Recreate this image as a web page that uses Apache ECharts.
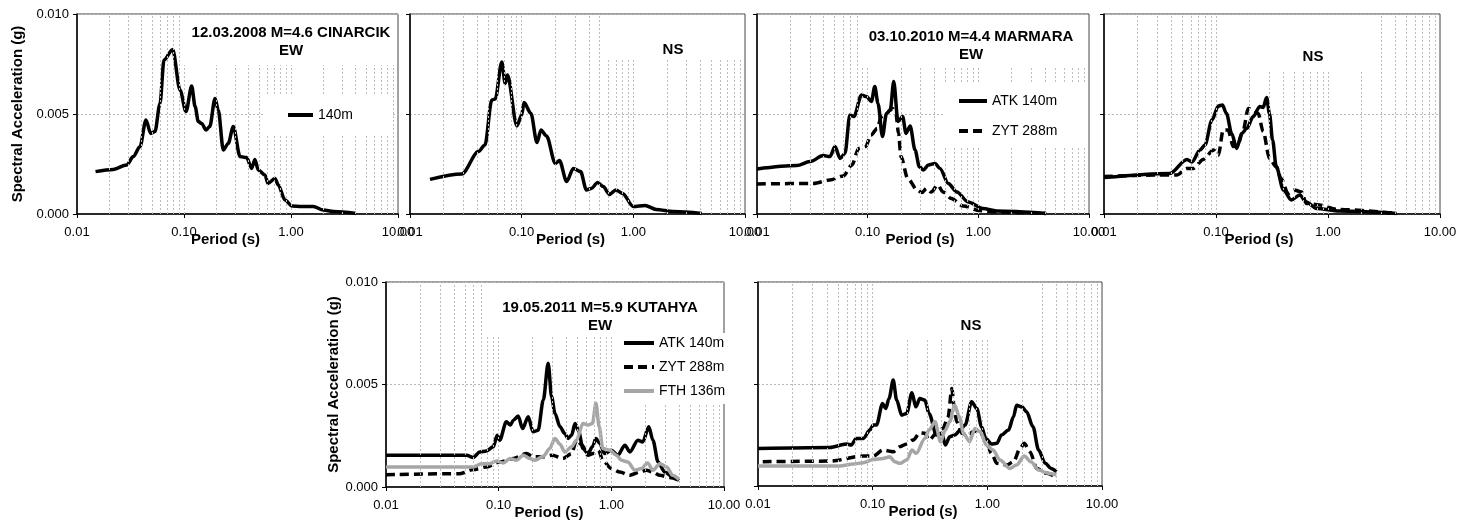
<!DOCTYPE html>
<html><head><meta charset="utf-8">
<script src="https://cdn.jsdelivr.net/npm/echarts@6/dist/echarts.min.js"></script>
<style>html,body{margin:0;padding:0;background:#fff}#c{width:1460px;height:521px}</style>
</head><body><div id="c"></div>
<script>
// ---------- tick labels ----------
const xTickLabels = ['0.01', '0.10', '1.00', '10.00'];
const yTickLabels = ['0.000', '0.005', '0.010'];

// ---------- panel titles / legend names ----------
const panelTitles = ['12.03.2008 M=4.6 CINARCIK\nEW', 'NS', '03.10.2010 M=4.4 MARMARA\nEW', 'NS', '19.05.2011 M=5.9 KUTAHYA\nEW', 'NS'];
const seriesNames = ['140m', 'ATK 140m', 'ZYT 288m', 'FTH 136m'];

// ---------- 12.03.2008 Cinarcik ----------
const cinEW_T  = [0.0149,0.0218,0.0291,0.0336,0.0388,0.0441,0.0488,0.0535,0.0597,0.065,0.0784,0.0918,0.1044,0.118,0.127,0.136,0.146,0.161,0.174,0.195,0.209,0.233,0.259,0.289,0.334,0.385,0.429,0.46,0.494,0.571,0.61,0.708,0.76,0.879,1.02,1.25,1.62,2.0,2.5,4.05];
const cinEW_SA = [0.00212,0.00223,0.00245,0.00287,0.00337,0.0047,0.00403,0.00412,0.00553,0.0077,0.00823,0.0062,0.00512,0.0064,0.00537,0.00462,0.00453,0.0042,0.00437,0.00578,0.0052,0.0032,0.00353,0.00437,0.00287,0.00282,0.00228,0.00273,0.0022,0.00195,0.00153,0.00178,0.00145,0.0007,0.0004,0.00038,0.00037,0.0002,0.00012,0.00003];
const cinNS_T  = [0.0151,0.0291,0.041,0.0469,0.054,0.058,0.0664,0.0712,0.0746,0.0906,0.1,0.105,0.121,0.137,0.149,0.167,0.2,0.218,0.253,0.29,0.337,0.38,0.42,0.48,0.538,0.61,0.697,0.8,1.0,1.27,1.6,2.3,4.1];
const cinNS_SA = [0.00173,0.002,0.00312,0.00345,0.0057,0.00575,0.0076,0.00653,0.00695,0.0044,0.00495,0.00557,0.00503,0.00357,0.0042,0.0039,0.00253,0.00267,0.00162,0.00228,0.00212,0.0012,0.00128,0.00157,0.00137,0.00098,0.0012,0.00103,0.00037,0.00043,0.00023,0.00012,0.00003];

// ---------- 03.10.2010 Marmara ----------
const marEW_ATK_T  = [0.01,0.0229,0.0301,0.0397,0.0456,0.0507,0.0563,0.0624,0.069,0.075,0.088,0.0976,0.108,0.116,0.124,0.136,0.148,0.16,0.172,0.188,0.207,0.222,0.242,0.268,0.293,0.319,0.354,0.407,0.45,0.535,0.64,0.81,1.1,1.46,4.1];
const marEW_ATK_SA = [0.00225,0.00242,0.00262,0.00292,0.00287,0.00337,0.00278,0.00303,0.00495,0.00487,0.00595,0.00587,0.00562,0.00637,0.00553,0.00387,0.00503,0.0052,0.00662,0.00462,0.00487,0.00403,0.0044,0.0032,0.00237,0.0022,0.00245,0.00253,0.00228,0.00153,0.0011,0.0006,0.00027,0.00015,0.00003];
const marEW_ZYT_T  = [0.01,0.0323,0.0456,0.0601,0.072,0.083,0.096,0.107,0.122,0.133,0.148,0.16,0.168,0.18,0.19,0.2,0.23,0.28,0.31,0.34,0.375,0.43,0.48,0.57,0.73,1.03,1.46,4.1];
const marEW_ZYT_SA = [0.0015,0.00153,0.0017,0.0019,0.00245,0.00328,0.00337,0.00395,0.00428,0.00487,0.00503,0.0052,0.00528,0.00503,0.00403,0.00287,0.00178,0.0012,0.00107,0.00128,0.0011,0.00145,0.0011,0.00078,0.0004,0.00017,0.0001,0.00003];
const marNS_ATK_T  = [0.01,0.0388,0.055,0.061,0.072,0.0797,0.092,0.105,0.114,0.124,0.138,0.153,0.17,0.188,0.215,0.246,0.264,0.283,0.30,0.32,0.345,0.40,0.47,0.56,0.64,0.79,1.27,4.1];
const marNS_ATK_SA = [0.00182,0.00203,0.00273,0.0026,0.0032,0.00345,0.0047,0.0054,0.00545,0.00503,0.00403,0.00328,0.00403,0.00428,0.00487,0.00537,0.00533,0.00583,0.00503,0.0037,0.00237,0.0012,0.0007,0.00095,0.0006,0.00028,0.00015,0.00003];
const marNS_ZYT_T  = [0.01,0.0295,0.0446,0.055,0.0625,0.077,0.095,0.105,0.116,0.128,0.143,0.158,0.175,0.194,0.215,0.238,0.264,0.30,0.345,0.38,0.44,0.50,0.58,0.64,0.84,1.2,4.1];
const marNS_ZYT_SA = [0.00187,0.00195,0.00195,0.00228,0.00228,0.00273,0.0032,0.00295,0.0042,0.0042,0.00337,0.00353,0.0042,0.00528,0.0052,0.00503,0.00412,0.00278,0.00237,0.00178,0.00103,0.0012,0.0011,0.00053,0.00045,0.00023,0.00003];

// ---------- 19.05.2011 Kutahya ----------
const kutEW_ATK_T  = [0.01,0.0519,0.0595,0.068,0.078,0.0895,0.097,0.102,0.117,0.127,0.135,0.149,0.163,0.183,0.202,0.224,0.249,0.275,0.295,0.316,0.35,0.386,0.413,0.444,0.476,0.51,0.56,0.62,0.68,0.73,0.79,0.87,1.0,1.14,1.32,1.46,1.72,1.9,2.15,2.34,2.6,2.98,3.5,4.0];
const kutEW_ATK_SA = [0.00155,0.00155,0.00144,0.00171,0.00176,0.00196,0.00253,0.00228,0.00318,0.00302,0.00326,0.00346,0.00285,0.00343,0.00269,0.00277,0.00424,0.00604,0.0044,0.00359,0.00294,0.00261,0.00237,0.00253,0.0031,0.00277,0.00188,0.00163,0.00196,0.00237,0.00212,0.00163,0.00179,0.00155,0.00204,0.00171,0.00228,0.0022,0.00294,0.00228,0.00122,0.00073,0.00049,0.00033];
const kutEW_ZYT_T  = [0.01,0.0452,0.0595,0.078,0.102,0.135,0.177,0.202,0.249,0.30,0.37,0.444,0.49,0.55,0.62,0.69,0.77,0.84,1.0,1.19,1.46,1.78,2.05,2.34,2.7,3.3,4.0];
const kutEW_ZYT_SA = [0.0006,0.00065,0.00085,0.00098,0.00122,0.00139,0.00163,0.00147,0.00147,0.00155,0.00139,0.00163,0.00228,0.00204,0.00155,0.00163,0.00179,0.0013,0.0009,0.00073,0.00057,0.00073,0.00082,0.00073,0.00057,0.00046,0.00033];
const kutEW_FTH_T  = [0.01,0.0595,0.0705,0.0835,0.0956,0.11,0.126,0.144,0.165,0.189,0.21,0.249,0.284,0.316,0.35,0.386,0.444,0.49,0.56,0.62,0.68,0.73,0.78,0.84,0.97,1.11,1.23,1.4,1.62,1.85,2.1,2.34,2.7,3.1,3.5,4.0];
const kutEW_FTH_SA = [0.00098,0.00098,0.00114,0.00114,0.00127,0.00117,0.00139,0.0013,0.00155,0.00139,0.0013,0.0015,0.00188,0.00237,0.00209,0.00171,0.00196,0.00228,0.0031,0.00302,0.0031,0.00408,0.00294,0.00188,0.00179,0.00155,0.0013,0.00122,0.00082,0.0009,0.00117,0.00082,0.00114,0.00098,0.00057,0.00036];
const kutNS_ATK_T  = [0.01,0.0423,0.059,0.065,0.072,0.083,0.0945,0.101,0.108,0.122,0.13,0.139,0.151,0.162,0.179,0.198,0.22,0.238,0.258,0.285,0.31,0.36,0.40,0.43,0.47,0.52,0.58,0.64,0.73,0.81,0.89,0.97,1.09,1.21,1.33,1.53,1.69,1.8,2.0,2.2,2.5,2.8,3.2,3.6,4.0];
const kutNS_ATK_SA = [0.00184,0.00189,0.00206,0.00201,0.00233,0.00233,0.00274,0.00299,0.00299,0.00405,0.0038,0.00429,0.00519,0.00421,0.00347,0.00356,0.00457,0.00388,0.00429,0.00421,0.00356,0.0025,0.00258,0.00201,0.00241,0.0025,0.00274,0.00299,0.00413,0.0038,0.0029,0.00233,0.00206,0.00209,0.0025,0.00274,0.00339,0.00396,0.00388,0.00364,0.0029,0.00176,0.00111,0.00086,0.0007];
const kutNS_ZYT_T  = [0.011,0.0423,0.083,0.101,0.123,0.151,0.173,0.198,0.225,0.258,0.285,0.31,0.36,0.41,0.455,0.49,0.51,0.54,0.6,0.68,0.75,0.85,0.96,1.09,1.21,1.48,1.69,1.93,2.1,2.35,2.7,3.3,4.0];
const kutNS_ZYT_SA = [0.00119,0.00122,0.00147,0.00147,0.00176,0.00168,0.00193,0.00206,0.00225,0.00261,0.00258,0.00225,0.00258,0.00282,0.00339,0.00478,0.00405,0.00315,0.00258,0.0025,0.00266,0.00274,0.00225,0.0016,0.00111,0.00103,0.00119,0.00184,0.00209,0.00168,0.00086,0.00062,0.00042];
const kutNS_FTH_T  = [0.01,0.0517,0.0677,0.083,0.101,0.123,0.141,0.156,0.173,0.198,0.22,0.24,0.285,0.31,0.35,0.39,0.43,0.47,0.52,0.57,0.62,0.70,0.78,0.87,0.98,1.12,1.29,1.58,1.8,2.1,2.4,2.8,3.4,4.0];
const kutNS_FTH_SA = [0.00098,0.00098,0.00108,0.00114,0.0013,0.00135,0.00143,0.00119,0.00111,0.00127,0.00176,0.0016,0.00233,0.00274,0.00315,0.00217,0.00274,0.00315,0.00396,0.00339,0.00258,0.00217,0.00282,0.00266,0.00201,0.00176,0.00127,0.00086,0.00103,0.00147,0.00119,0.00078,0.00062,0.00054];

// ---------- layout ----------
const FONT = '"Liberation Sans", Arial, sans-serif';
const grids = [
  {left: 77,   top: 14,  width: 321, height: 200},
  {left: 410,  top: 14,  width: 335, height: 200},
  {left: 757,  top: 14,  width: 332, height: 200},
  {left: 1104, top: 14,  width: 336, height: 200},
  {left: 386,  top: 282, width: 338, height: 205},
  {left: 758,  top: 282, width: 344, height: 204}
];
const periodShift = [24, 14, 6, 26, 12, 14];
const yNameGap = [52, 0, 0, 0, 39, 0];

const styles = {
  solid:  {color: '#000', width: 3.5, type: 'solid'},
  dashed: {color: '#000', width: 3.5, type: [9, 5]},
  gray:   {color: '#a6a6a6', width: 3.5, type: 'solid'}
};

function curve(name, gi, T, SA, st) {
  return {
    type: 'line', name: name, xAxisIndex: gi, yAxisIndex: gi,
    data: T.map((t, i) => [t, SA[i]]),
    symbol: 'none', showSymbol: false, smooth: 0.3, smoothMonotone: 'x',
    lineStyle: {color: st.color, width: st.width, type: st.type},
    itemStyle: {color: st.color}, z: 3, animation: false
  };
}

// minor grid positions built from the log decades
const gridVals = [];
[0.01, 0.1, 1].forEach(d => { for (let k = 1; k <= 9; k++) { if (!(d === 0.01 && k === 1)) gridVals.push(+(k * d).toPrecision(3)); } });

const xAxes = grids.map((g, i) => ({
  type: 'log', logBase: 10, gridIndex: i, min: 0.01, max: 10,
  axisLine: {show: true, lineStyle: {color: '#000', width: 1.5}},
  axisTick: {show: true, length: 4, lineStyle: {color: '#000'}},
  splitLine: {show: false},
  axisLabel: {color: '#000', fontSize: 13, fontFamily: FONT, margin: 12,
    formatter: v => xTickLabels[Math.round(Math.log10(v)) + 2]},
  name: 'Period (s)', nameLocation: 'middle', nameGap: 18, nameMoveOverlap: false,
  nameTextStyle: {color: '#000', fontSize: 15, fontWeight: 'bold', fontFamily: FONT, padding: [0, periodShift[i], 0, 0]}
}));
const yAxes = grids.map((g, i) => ({
  type: 'value', gridIndex: i, min: 0, max: 0.01, interval: 0.005,
  axisLine: {show: true, lineStyle: {color: '#000', width: 1.5}},
  axisTick: {show: true, length: 4, lineStyle: {color: '#000'}},
  splitLine: {show: true, lineStyle: {color: '#b8b8b8', type: [2, 2], width: 1}},
  axisLabel: {show: i === 0 || i === 4, color: '#000', fontSize: 13, fontFamily: FONT, margin: 8,
    formatter: v => yTickLabels[Math.round(v / 0.005)]},
  name: (i === 0 || i === 4) ? 'Spectral Acceleration (g)' : '',
  nameLocation: 'middle', nameGap: yNameGap[i],
  nameTextStyle: {color: '#000', fontSize: 15, fontWeight: 'bold', fontFamily: FONT}
}));

const series = [];
grids.forEach((g, i) => {
  series.push({
    type: 'line', xAxisIndex: i, yAxisIndex: i, data: [], silent: true, animation: false,
    markLine: {silent: true, animation: false, symbol: ['none', 'none'], label: {show: false},
      lineStyle: {color: '#bdbdbd', type: [2, 2], width: 1},
      data: gridVals.map(v => ({xAxis: v}))}
  });
});
series.push(curve(seriesNames[0], 0, cinEW_T, cinEW_SA, styles.solid));
series.push(curve(seriesNames[0], 1, cinNS_T, cinNS_SA, styles.solid));
series.push(curve(seriesNames[1], 2, marEW_ATK_T, marEW_ATK_SA, styles.solid));
series.push(curve(seriesNames[2], 2, marEW_ZYT_T, marEW_ZYT_SA, styles.dashed));
series.push(curve(seriesNames[1], 3, marNS_ATK_T, marNS_ATK_SA, styles.solid));
series.push(curve(seriesNames[2], 3, marNS_ZYT_T, marNS_ZYT_SA, styles.dashed));
series.push(curve(seriesNames[1], 4, kutEW_ATK_T, kutEW_ATK_SA, styles.solid));
series.push(curve(seriesNames[2], 4, kutEW_ZYT_T, kutEW_ZYT_SA, styles.dashed));
series.push(curve(seriesNames[3], 4, kutEW_FTH_T, kutEW_FTH_SA, styles.gray));
series.push(curve(seriesNames[1], 5, kutNS_ATK_T, kutNS_ATK_SA, styles.solid));
series.push(curve(seriesNames[2], 5, kutNS_ZYT_T, kutNS_ZYT_SA, styles.dashed));
series.push(curve(seriesNames[3], 5, kutNS_FTH_T, kutNS_FTH_SA, styles.gray));

// white text boxes and titles
const boxes = [
  {x: 180, y: 15, w: 217, h: 50, tx: 291, ty: 42},
  {x: 608, y: 15, w: 136, h: 45, tx: 673, ty: 50},
  {x: 862, y: 15, w: 226, h: 53, tx: 971, ty: 46},
  {x: 1248, y: 15, w: 119, h: 55, tx: 1313, ty: 57},
  {x: 485, y: 283, w: 238, h: 52, tx: 600, ty: 317},
  {x: 903, y: 283, w: 120, h: 57, tx: 971, ty: 326}
];
const graphics = [];
boxes.forEach((b, i) => {
  graphics.push({type: 'rect', z: 50, silent: true, shape: {x: b.x, y: b.y, width: b.w, height: b.h}, style: {fill: '#fff'}});
  graphics.push({type: 'text', z: 51, silent: true, x: b.tx, y: b.ty,
    style: {text: panelTitles[i], fill: '#000', font: 'bold 15px ' + FONT, align: 'center', verticalAlign: 'middle', lineHeight: 18}});
});

const legendCommon = {orient: 'vertical', selectedMode: false, backgroundColor: '#fff',
  textStyle: {color: '#000', fontSize: 14, fontFamily: FONT}, itemHeight: 14, z: 60,
  itemStyle: {opacity: 0, borderWidth: 0}, lineStyle: {width: 4}};
const legends = [
  Object.assign({}, legendCommon, {data: [seriesNames[0]], left: 264, top: 96, padding: [12, 40, 12, 22], itemWidth: 25}),
  Object.assign({}, legendCommon, {data: [seriesNames[1], seriesNames[2]], left: 945, top: 84, padding: [10, 30, 10, 12], itemWidth: 28, itemGap: 16}),
  Object.assign({}, legendCommon, {data: [seriesNames[1], seriesNames[2], seriesNames[3]], left: 614, top: 333, padding: [3, 4, 6, 8], itemWidth: 30, itemGap: 10})
];

const chart = echarts.init(document.getElementById('c'), null, {renderer: 'canvas'});
chart.setOption({
  backgroundColor: '#fff',
  animation: false,
  grid: grids.map(g => Object.assign({show: true, borderColor: '#444', borderWidth: 1, backgroundColor: 'transparent', containLabel: false, outerBoundsMode: 'none'}, g)),
  xAxis: xAxes,
  yAxis: yAxes,
  legend: legends,
  graphic: graphics,
  series: series
});
</script></body></html>
